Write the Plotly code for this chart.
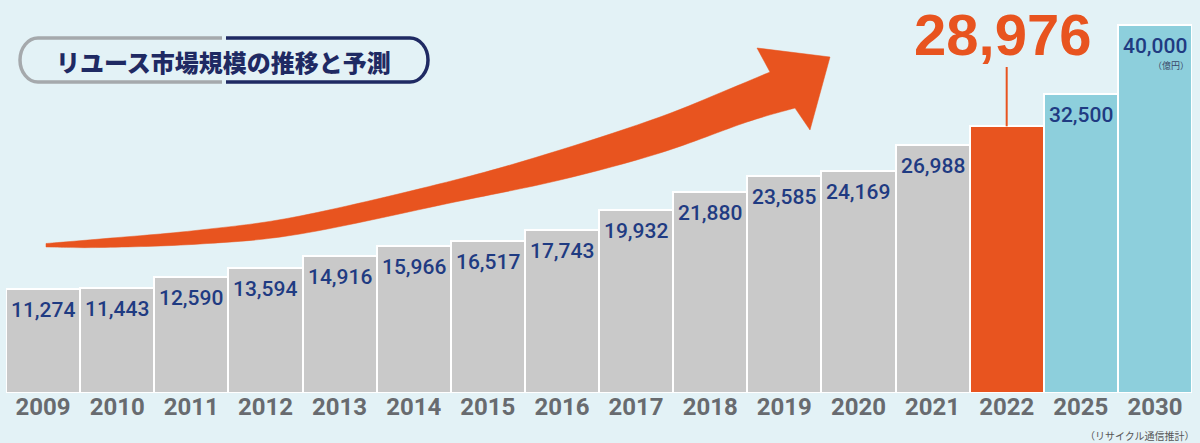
import plotly.graph_objects as go

# ---------------- data ----------------
years = ["2009", "2010", "2011", "2012", "2013", "2014", "2015", "2016",
         "2017", "2018", "2019", "2020", "2021", "2022", "2025", "2030"]
values = [11274, 11443, 12590, 13594, 14916, 15966, 16517, 17743,
          19932, 21880, 23585, 24169, 26988, 28976, 32500, 40000]
highlight_year = "2022"
title_text = "リユース市場規模の推移と予測"
unit_text = "（億円）"
source_text = "（リサイクル通信推計）"

# ---------------- style ----------------
BG = "#e3f2f6"
GREY = "#c9c9c9"
ORANGE = "#e8541f"
CYAN = "#8dcfdc"
NAVY = "#1f3b82"
TITLE_NAVY = "#1f2a63"
YEAR_GREY = "#686b6f"
NUMFONT = "Roboto, Liberation Sans, sans-serif"

bar_colors = [GREY] * 13 + [ORANGE, CYAN, CYAN]

W, H = 1200, 443
L, R, T, B = 6, 8, 0, 50
PW, PH = W - L - R, H - T - B
YMAX = 42700


def px(xp):
    return (xp - L) / PW


def py(yp):
    return (T + PH - yp) / PH


def smooth(points):
    """Catmull-Rom through points -> SVG cubic segments (paper coords)."""
    pts = [(px(a), py(b)) for a, b in points]
    s = ""
    n = len(pts)
    for i in range(n - 1):
        p0 = pts[i - 1] if i > 0 else pts[i]
        p1 = pts[i]
        p2 = pts[i + 1]
        p3 = pts[i + 2] if i + 2 < n else pts[i + 1]
        c1 = (p1[0] + (p2[0] - p0[0]) / 6, p1[1] + (p2[1] - p0[1]) / 6)
        c2 = (p2[0] - (p3[0] - p1[0]) / 6, p2[1] - (p3[1] - p1[1]) / 6)
        s += f" C {c1[0]:.5f},{c1[1]:.5f} {c2[0]:.5f},{c2[1]:.5f} {p2[0]:.5f},{p2[1]:.5f}"
    return s


def P(a, b):
    return f"{px(a):.5f},{py(b):.5f}"


fig = go.Figure()
fig.add_trace(go.Bar(
    x=years, y=values,
    marker=dict(color=bar_colors, line=dict(color="white", width=2)),
    hoverinfo="skip",
))

annotations = []
for i, (yr, v) in enumerate(zip(years, values)):
    if yr == highlight_year:
        continue
    annotations.append(dict(
        x=i, y=v, xref="x", yref="y", text=f"{v:,}", showarrow=False,
        yshift=-21, yanchor="middle",
        font=dict(family=NUMFONT, size=21, color=NAVY, weight=500),
    ))

# unit under the last value
annotations.append(dict(
    x=len(years) - 1, y=values[-1], xref="x", yref="y", text=unit_text, showarrow=False,
    yshift=-41, xshift=16, yanchor="middle",
    font=dict(family="Noto Sans CJK JP", size=9, color="#3a4a6a"),
))

# big highlight number
hi = years.index(highlight_year)
annotations.append(dict(
    x=hi, y=py(35), xref="x", yref="paper", text=f"{values[hi]:,}",
    showarrow=False, xshift=-4, yanchor="middle",
    font=dict(family="Liberation Sans, Arial, sans-serif", size=58, color=ORANGE, weight="bold"),
))

# title
annotations.append(dict(
    x=px(223), y=py(61), xref="paper", yref="paper", text=title_text, showarrow=False,
    xanchor="center", yanchor="middle",
    font=dict(family="Noto Sans CJK JP", size=24, color=TITLE_NAVY, weight=900),
))

# source
annotations.append(dict(
    x=px(1197), y=py(435), xref="paper", yref="paper", text=source_text, showarrow=False,
    xanchor="right", yanchor="middle",
    font=dict(family="Noto Sans CJK JP", size=10, color="#555555"),
))

shapes = []
# leader line
shapes.append(dict(
    type="line", xref="x", yref="y", x0=hi, x1=hi,
    y0=values[hi], y1=YMAX * py(67), line=dict(color=ORANGE, width=2), layer="above",
))

# title pill: grey left half, navy right half
shapes.append(dict(
    type="path", xref="paper", yref="paper",
    path=(f"M {P(222, 38)} L {P(38, 38)} C {P(28, 38)} {P(20, 48)} {P(20, 60)}"
          f" C {P(20, 72)} {P(28, 82)} {P(38, 82)} L {P(222, 82)}"),
    line=dict(color="#a5a9ac", width=3.5), layer="above",
))
shapes.append(dict(
    type="path", xref="paper", yref="paper",
    path=(f"M {P(226, 38)} L {P(410, 38)} C {P(420, 38)} {P(428, 48)} {P(428, 60)}"
          f" C {P(428, 72)} {P(420, 82)} {P(410, 82)} L {P(226, 82)}"),
    line=dict(color=TITLE_NAVY, width=3.5), layer="above",
))

# big curved arrow
upper = [(46, 243.5), (100, 239), (200, 230), (300, 216), (455, 180),
         (560, 150), (660, 117), (727, 90), (770, 72)]
lower = [(795, 108), (747, 122), (660, 153), (560, 180), (455, 202),
         (300, 234), (200, 244), (100, 247.5), (46, 247)]
arrow_path = (f"M {P(*upper[0])}" + smooth(upper)
              + f" L {P(757, 48)} L {P(830, 57)} L {P(810, 130)} L {P(*lower[0])}"
              + smooth(lower) + " Z")
shapes.append(dict(
    type="path", xref="paper", yref="paper", path=arrow_path,
    fillcolor=ORANGE, line=dict(color=ORANGE, width=0.5), layer="above",
))

fig.update_layout(
    width=W, height=H,
    margin=dict(l=L, r=R, t=T, b=B),
    paper_bgcolor=BG, plot_bgcolor=BG,
    bargap=0, showlegend=False,
    annotations=annotations, shapes=shapes,
    xaxis=dict(
        type="category", range=[-0.5, len(years) - 0.5],
        showgrid=False, zeroline=False, showline=False,
        ticks="", ticklabelstandoff=-3,
        tickfont=dict(family=NUMFONT, size=24, color=YEAR_GREY, weight="bold"),
    ),
    yaxis=dict(range=[0, YMAX], visible=False, showgrid=False, zeroline=False),
)

fig.write_html(
    "out.html",
    config={"displayModeBar": False},
    post_script="document.body.style.margin='0px';document.body.style.padding='0px';",
)
